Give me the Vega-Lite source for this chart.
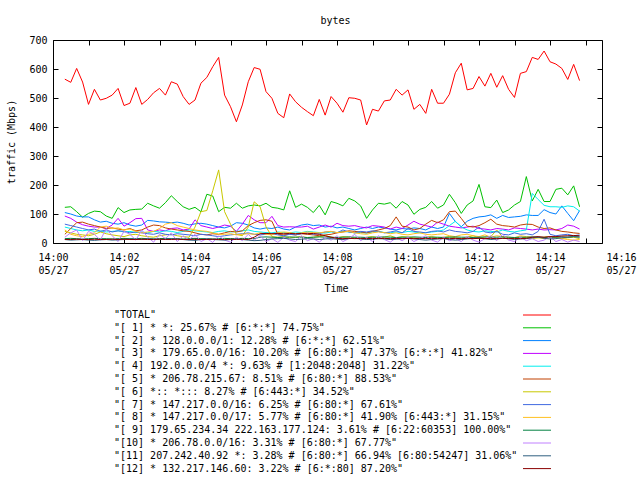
{
  "$schema": "https://vega.github.io/schema/vega-lite/v6.json",
  "width": 549,
  "height": 203,
  "autosize": {"type": "none"},
  "padding": {"left": 53, "top": 40, "right": 38, "bottom": 237},
  "background": "white",
  "title": {"text": "bytes", "font": "DejaVu Sans Mono", "fontSize": 10, "fontWeight": "normal", "color": "black", "dx": 8, "offset": 9},
  "datasets": {
    "names": [
      {"key": "s00", "label": "\"TOTAL\"", "order": 0},
      {"key": "s01", "label": "\"[ 1] * *: 25.67% # [6:*:*] 74.75%\"", "order": 1},
      {"key": "s02", "label": "\"[ 2] * 128.0.0.0/1: 12.28% # [6:*:*] 62.51%\"", "order": 2},
      {"key": "s03", "label": "\"[ 3] * 179.65.0.0/16: 10.20% # [6:80:*] 47.37% [6:*:*] 41.82%\"", "order": 3},
      {"key": "s04", "label": "\"[ 4] 192.0.0.0/4 *: 9.63% # [1:2048:2048] 31.22%\"", "order": 4},
      {"key": "s05", "label": "\"[ 5] * 206.78.215.67: 8.51% # [6:80:*] 88.53%\"", "order": 5},
      {"key": "s06", "label": "\"[ 6] *:: *::: 8.27% # [6:443:*] 34.52%\"", "order": 6},
      {"key": "s07", "label": "\"[ 7] * 147.217.0.0/16: 6.25% # [6:80:*] 67.61%\"", "order": 7},
      {"key": "s08", "label": "\"[ 8] * 147.217.0.0/17: 5.77% # [6:80:*] 41.90% [6:443:*] 31.15%\"", "order": 8},
      {"key": "s09", "label": "\"[ 9] 179.65.234.34 222.163.177.124: 3.61% # [6:22:60353] 100.00%\"", "order": 9},
      {"key": "s10", "label": "\"[10] * 206.78.0.0/16: 3.31% # [6:80:*] 67.77%\"", "order": 10},
      {"key": "s11", "label": "\"[11] 207.242.40.92 *: 3.28% # [6:80:*] 66.94% [6:80:54247] 31.06%\"", "order": 11},
      {"key": "s12", "label": "\"[12] * 132.217.146.60: 3.22% # [6:*:80] 87.20%\"", "order": 12}
    ]
  },
  "data": {
    "values": [
      {"t":20,"s00":565,"s01":123,"s02":105,"s03":93,"s04":55,"s05":30,"s06":40,"s07":65,"s08":45,"s09":15,"s10":20,"s11":12,"s12":12},
      {"t":30,"s00":554,"s01":125,"s02":100,"s03":85,"s04":50,"s05":50,"s06":35,"s07":60,"s08":30,"s09":16,"s10":35,"s11":10,"s12":12},
      {"t":40,"s00":602,"s01":108,"s02":93,"s03":72,"s04":45,"s05":70,"s06":30,"s07":55,"s08":25,"s09":15,"s10":45,"s11":11,"s12":13},
      {"t":50,"s00":555,"s01":89,"s02":90,"s03":63,"s04":42,"s05":72,"s06":28,"s07":50,"s08":22,"s09":14,"s10":8,"s11":12,"s12":12},
      {"t":60,"s00":478,"s01":102,"s02":90,"s03":58,"s04":45,"s05":65,"s06":25,"s07":45,"s08":30,"s09":15,"s10":40,"s11":10,"s12":12},
      {"t":70,"s00":530,"s01":110,"s02":80,"s03":55,"s04":40,"s05":60,"s06":30,"s07":48,"s08":35,"s09":16,"s10":30,"s11":9,"s12":13},
      {"t":80,"s00":493,"s01":108,"s02":72,"s03":55,"s04":42,"s05":55,"s06":38,"s07":40,"s08":55,"s09":15,"s10":10,"s11":11,"s12":12},
      {"t":90,"s00":499,"s01":93,"s02":75,"s03":50,"s04":38,"s05":50,"s06":32,"s07":45,"s08":58,"s09":15,"s10":50,"s11":12,"s12":12},
      {"t":100,"s00":510,"s01":85,"s02":68,"s03":62,"s04":40,"s05":52,"s06":28,"s07":38,"s08":50,"s09":14,"s10":25,"s11":10,"s12":13},
      {"t":110,"s00":533,"s01":122,"s02":65,"s03":85,"s04":42,"s05":48,"s06":25,"s07":42,"s08":52,"s09":15,"s10":5,"s11":11,"s12":12},
      {"t":120,"s00":474,"s01":105,"s02":70,"s03":58,"s04":38,"s05":45,"s06":22,"s07":40,"s08":45,"s09":16,"s10":40,"s11":12,"s12":13},
      {"t":130,"s00":482,"s01":114,"s02":62,"s03":70,"s04":40,"s05":50,"s06":28,"s07":35,"s08":48,"s09":15,"s10":30,"s11":14,"s12":12},
      {"t":140,"s00":536,"s01":116,"s02":58,"s03":84,"s04":36,"s05":42,"s06":30,"s07":38,"s08":40,"s09":15,"s10":10,"s11":13,"s12":12},
      {"t":150,"s00":478,"s01":117,"s02":62,"s03":85,"s04":38,"s05":45,"s06":25,"s07":35,"s08":35,"s09":16,"s10":45,"s11":12,"s12":13},
      {"t":160,"s00":495,"s01":137,"s02":78,"s03":45,"s04":35,"s05":55,"s06":22,"s07":32,"s08":38,"s09":15,"s10":20,"s11":15,"s12":12},
      {"t":170,"s00":518,"s01":128,"s02":76,"s03":40,"s04":40,"s05":62,"s06":20,"s07":30,"s08":40,"s09":14,"s10":3,"s11":14,"s12":12},
      {"t":180,"s00":533,"s01":120,"s02":73,"s03":45,"s04":38,"s05":60,"s06":25,"s07":35,"s08":50,"s09":15,"s10":30,"s11":12,"s12":13},
      {"t":190,"s00":510,"s01":139,"s02":72,"s03":42,"s04":42,"s05":52,"s06":28,"s07":30,"s08":65,"s09":16,"s10":15,"s11":13,"s12":12},
      {"t":200,"s00":556,"s01":163,"s02":70,"s03":50,"s04":40,"s05":48,"s06":30,"s07":28,"s08":70,"s09":15,"s10":35,"s11":15,"s12":12},
      {"t":210,"s00":548,"s01":143,"s02":72,"s03":52,"s04":36,"s05":45,"s06":25,"s07":32,"s08":60,"s09":15,"s10":5,"s11":14,"s12":13},
      {"t":220,"s00":505,"s01":125,"s02":68,"s03":45,"s04":40,"s05":42,"s06":22,"s07":30,"s08":55,"s09":14,"s10":25,"s11":12,"s12":12},
      {"t":230,"s00":478,"s01":116,"s02":62,"s03":48,"s04":45,"s05":40,"s06":20,"s07":28,"s08":50,"s09":15,"s10":10,"s11":10,"s12":12},
      {"t":240,"s00":493,"s01":123,"s02":66,"s03":80,"s04":42,"s05":35,"s06":55,"s07":25,"s08":45,"s09":16,"s10":30,"s11":9,"s12":13},
      {"t":250,"s00":551,"s01":108,"s02":68,"s03":60,"s04":40,"s05":30,"s06":108,"s07":30,"s08":42,"s09":15,"s10":5,"s11":12,"s12":12},
      {"t":260,"s00":571,"s01":168,"s02":65,"s03":55,"s04":38,"s05":28,"s06":112,"s07":28,"s08":40,"s09":15,"s10":15,"s11":14,"s12":12},
      {"t":270,"s00":608,"s01":162,"s02":60,"s03":50,"s04":36,"s05":32,"s06":180,"s07":25,"s08":35,"s09":14,"s10":2,"s11":12,"s12":13},
      {"t":280,"s00":640,"s01":108,"s02":55,"s03":55,"s04":40,"s05":30,"s06":252,"s07":22,"s08":30,"s09":15,"s10":25,"s11":11,"s12":12},
      {"t":290,"s00":510,"s01":123,"s02":52,"s03":62,"s04":42,"s05":35,"s06":108,"s07":25,"s08":30,"s09":16,"s10":10,"s11":10,"s12":12},
      {"t":300,"s00":470,"s01":120,"s02":58,"s03":58,"s04":38,"s05":40,"s06":65,"s07":28,"s08":32,"s09":15,"s10":3,"s11":12,"s12":13},
      {"t":310,"s00":418,"s01":137,"s02":70,"s03":40,"s04":40,"s05":38,"s06":30,"s07":30,"s08":28,"s09":15,"s10":20,"s11":14,"s12":12},
      {"t":320,"s00":476,"s01":120,"s02":68,"s03":65,"s04":42,"s05":42,"s06":25,"s07":32,"s08":30,"s09":16,"s10":8,"s11":12,"s12":13},
      {"t":330,"s00":556,"s01":128,"s02":62,"s03":95,"s04":45,"s05":60,"s06":55,"s07":35,"s08":32,"s09":15,"s10":30,"s11":10,"s12":12},
      {"t":340,"s00":605,"s01":131,"s02":52,"s03":80,"s04":40,"s05":70,"s06":142,"s07":30,"s08":30,"s09":15,"s10":10,"s11":8,"s12":20},
      {"t":350,"s00":599,"s01":128,"s02":48,"s03":70,"s04":38,"s05":78,"s06":125,"s07":28,"s08":35,"s09":20,"s10":25,"s11":9,"s12":32},
      {"t":360,"s00":522,"s01":137,"s02":52,"s03":70,"s04":36,"s05":80,"s06":56,"s07":30,"s08":30,"s09":21,"s10":5,"s11":12,"s12":33},
      {"t":370,"s00":499,"s01":123,"s02":50,"s03":92,"s04":35,"s05":75,"s06":22,"s07":32,"s08":28,"s09":20,"s10":15,"s11":14,"s12":32},
      {"t":380,"s00":447,"s01":120,"s02":55,"s03":60,"s04":38,"s05":30,"s06":20,"s07":28,"s08":35,"s09":19,"s10":2,"s11":15,"s12":33},
      {"t":390,"s00":432,"s01":114,"s02":48,"s03":55,"s04":36,"s05":28,"s06":22,"s07":25,"s08":38,"s09":20,"s10":20,"s11":16,"s12":32},
      {"t":400,"s00":514,"s01":180,"s02":45,"s03":56,"s04":35,"s05":30,"s06":18,"s07":30,"s08":36,"s09":21,"s10":10,"s11":14,"s12":33},
      {"t":410,"s00":487,"s01":123,"s02":55,"s03":55,"s04":38,"s05":28,"s06":20,"s07":28,"s08":32,"s09":20,"s10":5,"s11":12,"s12":32},
      {"t":420,"s00":468,"s01":134,"s02":62,"s03":55,"s04":36,"s05":32,"s06":22,"s07":32,"s08":35,"s09":20,"s10":25,"s11":13,"s12":33},
      {"t":430,"s00":453,"s01":123,"s02":65,"s03":58,"s04":40,"s05":30,"s06":18,"s07":35,"s08":38,"s09":19,"s10":8,"s11":15,"s12":32},
      {"t":440,"s00":439,"s01":105,"s02":60,"s03":48,"s04":38,"s05":28,"s06":20,"s07":30,"s08":36,"s09":20,"s10":15,"s11":14,"s12":33},
      {"t":450,"s00":495,"s01":130,"s02":62,"s03":55,"s04":36,"s05":25,"s06":22,"s07":32,"s08":35,"s09":21,"s10":3,"s11":12,"s12":30},
      {"t":460,"s00":441,"s01":97,"s02":55,"s03":62,"s04":34,"s05":28,"s06":25,"s07":38,"s08":38,"s09":20,"s10":20,"s11":14,"s12":25},
      {"t":470,"s00":505,"s01":143,"s02":58,"s03":55,"s04":38,"s05":30,"s06":20,"s07":40,"s08":40,"s09":20,"s10":10,"s11":15,"s12":20},
      {"t":480,"s00":482,"s01":137,"s02":52,"s03":68,"s04":36,"s05":35,"s06":18,"s07":35,"s08":36,"s09":19,"s10":25,"s11":13,"s12":16},
      {"t":490,"s00":451,"s01":128,"s02":55,"s03":60,"s04":40,"s05":38,"s06":22,"s07":45,"s08":38,"s09":20,"s10":5,"s11":12,"s12":15},
      {"t":500,"s00":501,"s01":154,"s02":50,"s03":58,"s04":38,"s05":42,"s06":20,"s07":38,"s08":40,"s09":21,"s10":15,"s11":15,"s12":16},
      {"t":510,"s00":499,"s01":145,"s02":45,"s03":60,"s04":35,"s05":40,"s06":18,"s07":35,"s08":35,"s09":20,"s10":30,"s11":16,"s12":15},
      {"t":520,"s00":493,"s01":128,"s02":50,"s03":55,"s04":36,"s05":38,"s06":15,"s07":40,"s08":32,"s09":20,"s10":8,"s11":14,"s12":16},
      {"t":530,"s00":407,"s01":85,"s02":55,"s03":52,"s04":34,"s05":35,"s06":20,"s07":38,"s08":30,"s09":19,"s10":20,"s11":12,"s12":15},
      {"t":540,"s00":461,"s01":114,"s02":50,"s03":60,"s04":38,"s05":40,"s06":22,"s07":42,"s08":35,"s09":20,"s10":5,"s11":13,"s12":16},
      {"t":550,"s00":455,"s01":137,"s02":55,"s03":58,"s04":40,"s05":45,"s06":18,"s07":40,"s08":38,"s09":20,"s10":25,"s11":15,"s12":15},
      {"t":560,"s00":490,"s01":134,"s02":52,"s03":55,"s04":36,"s05":50,"s06":20,"s07":35,"s08":36,"s09":21,"s10":12,"s11":14,"s12":16},
      {"t":570,"s00":493,"s01":139,"s02":48,"s03":48,"s04":35,"s05":60,"s06":25,"s07":38,"s08":32,"s09":20,"s10":3,"s11":12,"s12":15},
      {"t":580,"s00":530,"s01":120,"s02":45,"s03":55,"s04":38,"s05":90,"s06":18,"s07":42,"s08":35,"s09":19,"s10":18,"s11":13,"s12":16},
      {"t":590,"s00":510,"s01":143,"s02":50,"s03":50,"s04":36,"s05":58,"s06":22,"s07":35,"s08":30,"s09":20,"s10":8,"s11":15,"s12":15},
      {"t":600,"s00":528,"s01":131,"s02":48,"s03":62,"s04":40,"s05":55,"s06":20,"s07":50,"s08":28,"s09":20,"s10":20,"s11":16,"s12":16},
      {"t":610,"s00":461,"s01":99,"s02":52,"s03":75,"s04":38,"s05":45,"s06":18,"s07":40,"s08":32,"s09":21,"s10":5,"s11":14,"s12":15},
      {"t":620,"s00":478,"s01":116,"s02":50,"s03":65,"s04":35,"s05":50,"s06":15,"s07":38,"s08":35,"s09":20,"s10":15,"s11":12,"s12":16},
      {"t":630,"s00":447,"s01":123,"s02":45,"s03":60,"s04":36,"s05":65,"s06":20,"s07":35,"s08":30,"s09":19,"s10":25,"s11":10,"s12":15},
      {"t":640,"s00":530,"s01":143,"s02":55,"s03":55,"s04":38,"s05":78,"s06":22,"s07":40,"s08":28,"s09":20,"s10":10,"s11":12,"s12":16},
      {"t":650,"s00":482,"s01":120,"s02":50,"s03":72,"s04":40,"s05":70,"s06":18,"s07":42,"s08":30,"s09":20,"s10":3,"s11":14,"s12":15},
      {"t":660,"s00":482,"s01":131,"s02":55,"s03":65,"s04":45,"s05":80,"s06":20,"s07":38,"s08":32,"s09":19,"s10":20,"s11":15,"s12":16},
      {"t":670,"s00":513,"s01":168,"s02":102,"s03":58,"s04":60,"s05":108,"s06":22,"s07":45,"s08":25,"s09":20,"s10":8,"s11":12,"s12":15},
      {"t":680,"s00":587,"s01":139,"s02":74,"s03":55,"s04":75,"s05":110,"s06":18,"s07":40,"s08":22,"s09":21,"s10":15,"s11":10,"s12":16},
      {"t":690,"s00":620,"s01":102,"s02":56,"s03":52,"s04":55,"s05":85,"s06":15,"s07":38,"s08":28,"s09":20,"s10":5,"s11":12,"s12":15},
      {"t":700,"s00":528,"s01":131,"s02":75,"s03":55,"s04":45,"s05":58,"s06":20,"s07":35,"s08":30,"s09":20,"s10":22,"s11":14,"s12":16},
      {"t":710,"s00":533,"s01":145,"s02":85,"s03":58,"s04":40,"s05":55,"s06":25,"s07":40,"s08":25,"s09":19,"s10":10,"s11":16,"s12":15},
      {"t":720,"s00":574,"s01":202,"s02":90,"s03":50,"s04":38,"s05":60,"s06":18,"s07":55,"s08":22,"s09":20,"s10":3,"s11":18,"s12":16},
      {"t":730,"s00":541,"s01":125,"s02":92,"s03":48,"s04":42,"s05":70,"s06":20,"s07":38,"s08":28,"s09":21,"s10":15,"s11":15,"s12":15},
      {"t":740,"s00":585,"s01":122,"s02":97,"s03":45,"s04":40,"s05":82,"s06":22,"s07":35,"s08":20,"s09":20,"s10":25,"s11":12,"s12":16},
      {"t":750,"s00":537,"s01":148,"s02":85,"s03":50,"s04":38,"s05":65,"s06":45,"s07":40,"s08":25,"s09":20,"s10":8,"s11":14,"s12":15},
      {"t":760,"s00":577,"s01":105,"s02":95,"s03":48,"s04":45,"s05":60,"s06":20,"s07":30,"s08":22,"s09":21,"s10":30,"s11":16,"s12":16},
      {"t":770,"s00":530,"s01":114,"s02":88,"s03":45,"s04":40,"s05":58,"s06":18,"s07":28,"s08":20,"s09":20,"s10":10,"s11":15,"s12":15},
      {"t":780,"s00":502,"s01":131,"s02":90,"s03":52,"s04":38,"s05":55,"s06":15,"s07":35,"s08":18,"s09":19,"s10":5,"s11":12,"s12":16},
      {"t":790,"s00":585,"s01":143,"s02":92,"s03":50,"s04":42,"s05":62,"s06":20,"s07":30,"s08":25,"s09":20,"s10":20,"s11":14,"s12":15},
      {"t":800,"s00":591,"s01":229,"s02":97,"s03":48,"s04":45,"s05":65,"s06":18,"s07":32,"s08":22,"s09":20,"s10":8,"s11":15,"s12":16},
      {"t":810,"s00":640,"s01":145,"s02":95,"s03":45,"s04":171,"s05":64,"s06":15,"s07":28,"s08":20,"s09":21,"s10":15,"s11":18,"s12":20},
      {"t":820,"s00":633,"s01":185,"s02":95,"s03":48,"s04":150,"s05":55,"s06":18,"s07":40,"s08":18,"s09":20,"s10":5,"s11":20,"s12":22},
      {"t":830,"s00":662,"s01":143,"s02":115,"s03":45,"s04":130,"s05":50,"s06":20,"s07":82,"s08":15,"s09":19,"s10":10,"s11":16,"s12":20},
      {"t":840,"s00":625,"s01":143,"s02":105,"s03":46,"s04":125,"s05":52,"s06":22,"s07":30,"s08":18,"s09":20,"s10":22,"s11":14,"s12":22},
      {"t":850,"s00":617,"s01":185,"s02":100,"s03":45,"s04":125,"s05":45,"s06":18,"s07":25,"s08":20,"s09":20,"s10":5,"s11":15,"s12":22},
      {"t":860,"s00":602,"s01":189,"s02":128,"s03":50,"s04":123,"s05":40,"s06":15,"s07":28,"s08":15,"s09":21,"s10":12,"s11":18,"s12":24},
      {"t":870,"s00":564,"s01":166,"s02":102,"s03":62,"s04":128,"s05":38,"s06":18,"s07":30,"s08":12,"s09":20,"s10":3,"s11":20,"s12":25},
      {"t":880,"s00":616,"s01":197,"s02":77,"s03":58,"s04":125,"s05":35,"s06":20,"s07":25,"s08":10,"s09":22,"s10":10,"s11":22,"s12":26},
      {"t":890,"s00":560,"s01":125,"s02":112,"s03":48,"s04":110,"s05":33,"s06":15,"s07":28,"s08":12,"s09":21,"s10":5,"s11":20,"s12":25}
    ]
  },
  "transform": [
    {"fold": ["s00","s01","s02","s03","s04","s05","s06","s07","s08","s09","s10","s11","s12"], "as": ["key", "value"]},
    {"lookup": "key", "from": {"data": {"name": "names"}, "key": "key", "fields": ["label", "order"]}}
  ],
  "layer": [
    {
      "mark": {"type": "line", "strokeWidth": 1},
      "encoding": {
        "x": {
          "field": "t", "type": "quantitative",
          "scale": {"domain": [0, 960], "range": [0, 568], "nice": false, "zero": false},
          "axis": {
            "orient": "bottom",
            "values": [0,60,120,180,240,300,360,420,480,540,600,660,720,780,840,900,960],
            "labelExpr": "datum.value % 120 == 0 ? ['14:' + (datum.value < 600 ? '0' : '') + (datum.value / 60), '05/27'] : ''",
            "labelFlush": false, "labelOverlap": false, "labelBound": false,
            "labelLineHeight": 13, "labelPadding": 14,
            "tickSize": -5,
            "tickColor": {"condition": {"test": "datum.value > 930", "value": "transparent"}, "value": "black"},
            "domain": false, "grid": false,
            "title": "Time", "titleX": 283, "titlePadding": 8
          }
        },
        "y": {
          "field": "value", "type": "quantitative",
          "scale": {"domain": [0, 700], "nice": false},
          "axis": {
            "orient": "left",
            "values": [0,100,200,300,400,500,600,700],
            "labelPadding": 11, "tickSize": -5, "tickColor": "black",
            "domain": false, "grid": false,
            "title": "traffic (Mbps)", "titlePadding": 12
          }
        },
        "color": {
          "field": "label", "type": "nominal",
          "sort": {"field": "order", "op": "min"},
          "scale": {"range": ["#ff0000","#00c000","#0080ff","#c000ff","#00eeee","#c04000","#c8c800","#4169e1","#ffc020","#008040","#c080ff","#306080","#8b0000"]},
          "legend": {
            "orient": "none", "legendX": 479, "legendY": 270,
            "title": null, "symbolType": "M-7,0L7,0", "symbolSize": 16, "symbolStrokeWidth": 1,
            "labelOffset": -428, "labelLimit": 1000, "rowPadding": 2.8, "padding": 0
          }
        }
      }
    },
    {
      "mark": {"type": "point", "opacity": 0},
      "encoding": {
        "x": {
          "field": "t", "type": "quantitative",
          "axis": {"orient": "top", "values": [0,60,120,180,240,300,360,420,480,540,600,660,720,780,840,900], "labels": false, "tickSize": -5, "tickColor": "black", "domain": false, "grid": false, "title": null}
        },
        "y": {
          "field": "value", "type": "quantitative",
          "axis": {"orient": "right", "values": [0,100,200,300,400,500,600,700], "labels": false, "tickSize": -5, "tickColor": "black", "domain": false, "grid": false, "title": null}
        }
      }
    }
  ],
  "resolve": {"axis": {"x": "independent", "y": "independent"}},
  "config": {
    "font": "DejaVu Sans Mono",
    "view": {"stroke": "black", "strokeWidth": 1},
    "axis": {"labelFont": "DejaVu Sans Mono", "labelFontSize": 10, "labelColor": "black", "titleFont": "DejaVu Sans Mono", "titleFontSize": 10, "titleFontWeight": "normal", "titleColor": "black"},
    "legend": {"labelFont": "DejaVu Sans Mono", "labelFontSize": 10, "labelColor": "black"}
  }
}
